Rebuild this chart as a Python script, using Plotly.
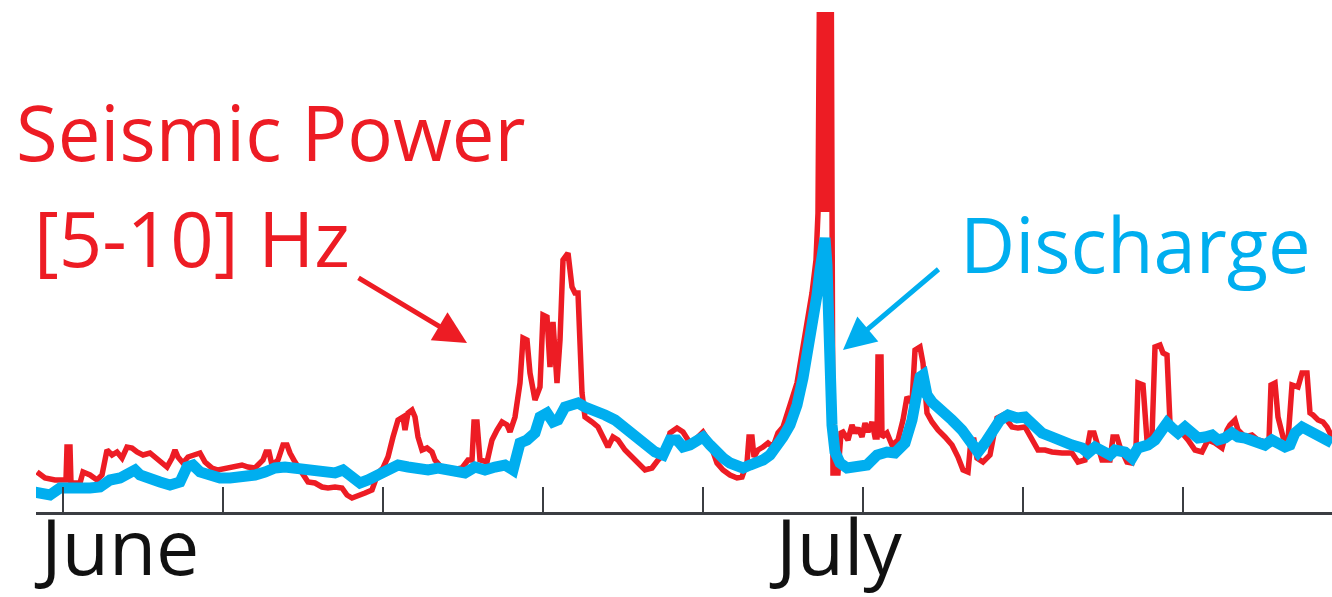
import plotly.graph_objects as go

# Time in hours since the start of the record; values are normalised power / discharge.
seismic_hours = [
    4.75, 10.75, 18.25, 24.25, 26.5, 27.25, 29.5, 30.25, 37, 39.25, 44.5, 49.75, 53.5, 57.25,
    61, 64.75, 68.5, 72.25, 76, 79.75, 84.25, 89.5, 93.25, 97, 102.25, 106, 108.25, 110.5,
    114.25, 118, 121.75, 127, 130.75, 136, 140.5, 147.25, 151.75, 158.5, 163, 168.25, 174.25,
    176.5, 178.75, 181, 185.5, 189.25, 192.25, 194.5, 198.25, 203.5, 208, 213.25, 218.5, 223,
    228.25, 233.5, 237.25, 241, 245.5, 250.75, 256, 260.5, 264.25, 268, 271.75, 275.5, 279.25,
    280.75, 283, 286, 288.25, 290.5, 293.5, 297.25, 301, 303.25, 308.5, 316, 323.5, 328, 331,
    332.5, 334.75, 337, 342.25, 346, 349.75, 353.5, 357.25, 359.5, 363.25, 367, 369.25, 372.25,
    374.5, 378.25, 382, 384.25, 387.25, 389.5, 391.75, 394.75, 397, 399.25, 403, 406, 408.25,
    410.5, 413.5, 415.75, 421, 425.5, 429.25, 433, 436.75, 440.5, 445.75, 451, 455.5, 460.75,
    466, 470.5, 475.75, 479.5, 484.75, 489.25, 494.5, 499.75, 504.25, 509.5, 514.75, 519.25,
    524.5, 529.75, 533.5, 537.25, 538.75, 541, 542.5, 545.5, 549.25, 553, 556.75, 560.5, 564.25,
    569.5, 574.75, 579.25, 583, 586, 589, 590.5, 592, 593.25, 594.25, 595.5, 596.5, 597.75,
    598.75, 600.25, 601.75, 605.5, 607.75, 609.25,
    613, 616, 618.25, 620.5, 623.5, 625.75, 628, 631, 633.25, 634.75, 635.5, 637.75, 638.5,
    642.25, 646, 650.5, 654.25, 657.25, 661, 663.25, 667, 669.25, 672.25, 676, 680.5, 685.75,
    691, 695.5, 699.25, 703, 705.25, 707.5, 709.75, 714.25, 719.5, 724.75, 729.25, 736, 740.5,
    745.75, 751, 755.5, 760.75, 766, 773.5, 781, 785.5, 790.75, 794.5, 797.5, 799.75, 803.5,
    809.5, 811.75, 814.75, 817, 822.25, 826, 829, 830.5, 834.25, 837.25, 841, 843.25, 847,
    849.25, 852.25, 854.5, 858.25, 863.5, 868, 873.25, 878.5, 883, 888.25, 893.5, 897.25, 899.5,
    903.25, 905.5, 910.75, 916, 920.5, 925.75, 928.75, 930.25, 933.25, 935.5, 939.25, 943, 946,
    950.5, 953.5, 957.25, 959.5, 961.75, 965.5, 969.25, 972.25, 976,
]
seismic_power = [
    0.40, 0.34, 0.32, 0.33, 0.32, 0.65, 0.65, 0.29, 0.29, 0.40, 0.37, 0.32, 0.37, 0.62,
    0.57, 0.60, 0.54, 0.65, 0.64, 0.60, 0.57, 0.59, 0.55, 0.52, 0.45, 0.54, 0.62, 0.55,
    0.49, 0.55, 0.57, 0.59, 0.50, 0.44, 0.42, 0.44, 0.45, 0.47, 0.45, 0.44, 0.52,
    0.60, 0.60, 0.47, 0.52, 0.67, 0.67, 0.59, 0.50, 0.40, 0.30, 0.29, 0.25, 0.24,
    0.25, 0.24, 0.17, 0.14, 0.17, 0.19, 0.22, 0.39, 0.44, 0.55, 0.75, 0.92, 0.95,
    0.82, 0.99, 1.02, 0.95, 0.75, 0.62, 0.64, 0.60, 0.52, 0.44, 0.42, 0.44, 0.52, 0.52,
    0.90, 0.90, 0.52, 0.50, 0.72, 0.82, 0.90, 0.87, 0.80, 0.95, 1.29, 1.74, 1.72,
    1.39, 1.12, 1.25, 1.97, 1.95, 1.45, 1.90, 1.29, 1.72, 2.52, 2.59, 2.25, 2.19,
    2.19, 1.19, 0.95, 0.90, 0.85, 0.75, 0.65, 0.75, 0.72, 0.62, 0.55, 0.49, 0.42,
    0.44, 0.52, 0.59, 0.79, 0.84, 0.80, 0.69, 0.74, 0.80, 0.69, 0.49, 0.42,
    0.37, 0.34, 0.35, 0.49, 0.75, 0.75, 0.55, 0.62, 0.65, 0.69, 0.65, 0.79, 0.85,
    1.05, 1.29, 1.65, 1.95, 2.19, 2.52, 2.99, 6.00, 3.00, 6.00, 3.00, 6.00, 3.00,
    6.00, 6.00, 0.39, 0.39, 0.79, 0.80,
    0.72, 0.87, 0.79, 0.84, 0.75, 0.89, 0.80, 0.90, 0.75, 0.75, 1.55, 1.55, 0.75,
    0.79, 0.67, 0.72, 0.92, 1.15, 1.09, 1.62, 1.65, 1.49, 0.99, 0.90, 0.82, 0.75,
    0.67, 0.55, 0.42, 0.40, 0.72, 0.72, 0.54, 0.50, 0.57, 0.94, 0.97, 0.85, 0.84,
    0.85, 0.72, 0.62, 0.62, 0.60, 0.59, 0.59, 0.50, 0.52, 0.79, 0.79, 0.69, 0.52,
    0.52, 0.75, 0.75, 0.65, 0.50, 0.49, 0.65, 1.29, 1.27, 0.72, 0.75, 1.65, 1.67,
    1.59, 1.57, 0.89, 0.82, 0.79, 0.72, 0.62, 0.60, 0.72, 0.69, 0.64, 0.82, 0.87,
    0.92, 0.82, 0.75, 0.77, 0.72, 0.70, 0.72, 1.27, 1.29, 0.95, 0.75, 0.72, 1.27,
    1.25, 1.39, 1.39, 0.99, 0.97, 0.92, 0.90, 0.85, 0.75,
]

discharge_hours = [
    2.5, 7, 14.5, 22, 29.5, 37, 44.5, 52, 59.5, 67, 74.5, 78.25, 82, 89.5, 97, 104.5, 112,
    117.25, 121.75, 127, 134.5, 142, 149.5, 157, 164.5, 168.25, 175.75, 183.25, 190.75, 198.25,
    205.75, 213.25, 220.75, 228.25, 234.25, 241, 247, 253, 260.5, 268, 275.5, 283, 290.5, 298,
    305.5, 313, 320.5, 325.75, 333.25, 340.75, 348.25, 355.75, 361.75, 367, 372.25, 378.25, 382,
    387.25, 391.75, 395.5, 400.75, 406, 410.5, 415.75, 423.25, 430.75, 438.25, 445.75, 453.25,
    460.75, 468.25, 474.25, 479.5, 484.75, 489.25, 494.5, 499.75, 504.25, 509.5, 514.75, 519.25,
    524.5, 529.75, 534.25, 539.5, 544.75, 549.25, 554.5, 559.75, 564.25, 569.5, 574.75, 579.25,
    583, 586.75, 589.75, 592, 594.25, 595.75, 597.25, 598, 599.5, 601, 603.25, 607, 612.25,
    619.75, 627.25, 634.75, 642.25, 648.25, 655.75, 661, 664.75, 667, 669.25, 672.25, 676,
    683.5, 691, 698.5, 706, 710.5, 715.75, 721, 727, 733, 739.75, 745.75, 751, 758.5, 766,
    773.5, 781, 788.5, 793, 798.25, 803.5, 809.5, 813.25, 820.75, 826, 830.5, 838, 843.25,
    848.5, 852.25, 856, 860.5, 865.75, 871, 875.5, 880.75, 886, 890.5, 895.75, 901, 905.5,
    910.75, 916, 920.5, 925.75, 931, 935.5, 940.75, 944.5, 948.25, 953.5, 958, 963.25, 968.5,
    976,
]
discharge = [
    0.20, 0.19, 0.17, 0.24, 0.24, 0.22, 0.24, 0.25, 0.32, 0.34, 0.39, 0.42, 0.37, 0.32, 0.30,
    0.27, 0.30, 0.45, 0.47, 0.40, 0.37, 0.34, 0.34, 0.35, 0.35, 0.37, 0.40, 0.44, 0.45, 0.44,
    0.42, 0.40, 0.39, 0.39, 0.42, 0.34, 0.29, 0.32, 0.37, 0.42, 0.47, 0.45, 0.44, 0.42,
    0.44, 0.42, 0.40, 0.39, 0.45, 0.42, 0.45, 0.47, 0.42, 0.69, 0.72, 0.79, 0.95,
    0.99, 0.90, 0.92, 1.05, 1.07, 1.09, 1.05, 1.02, 0.97, 0.92, 0.84, 0.75,
    0.65, 0.60, 0.57, 0.72, 0.72, 0.65, 0.67, 0.72, 0.75, 0.67, 0.59, 0.54,
    0.49, 0.45, 0.44, 0.47, 0.49, 0.52, 0.57, 0.65, 0.75, 0.87, 1.07, 1.34,
    1.60, 1.87, 2.17, 2.42, 2.67, 2.74, 2.47, 2.02, 1.32, 0.87, 0.60, 0.49, 0.44,
    0.45, 0.47, 0.57, 0.60, 0.59, 0.69, 0.92, 1.25, 1.35, 1.37, 1.17, 1.10,
    1.02, 0.92, 0.82, 0.65, 0.60, 0.69, 0.82, 0.92, 0.97, 0.94, 0.95, 0.89, 0.79, 0.75,
    0.70, 0.67, 0.64, 0.59, 0.65, 0.60, 0.57, 0.62, 0.60, 0.54, 0.64, 0.67, 0.72,
    0.82, 0.89, 0.84, 0.79, 0.85, 0.79, 0.74, 0.75, 0.77, 0.72, 0.74, 0.79, 0.75,
    0.74, 0.72, 0.69, 0.67, 0.72, 0.69, 0.65, 0.67, 0.79, 0.85, 0.82, 0.79, 0.75,
    0.69,
]

month_labels = ["June", "July"]

RED = "#ED1C24"
CYAN = "#00AEEF"
AXIS = "#3b3d42"
FONT = "Open Sans, Liberation Sans, sans-serif"

fig = go.Figure()
fig.add_trace(go.Scatter(
    x=seismic_hours, y=seismic_power, mode="lines",
    line=dict(color=RED, width=5.5), hoverinfo="skip", showlegend=False,
))
fig.add_trace(go.Scatter(
    x=discharge_hours, y=discharge, mode="lines",
    line=dict(color=CYAN, width=11), hoverinfo="skip", showlegend=False,
))


def label(text, x, y, color, size=76):
    return dict(x=x, y=y, xref="paper", yref="paper", text=text, showarrow=False,
                xanchor="left", yanchor="middle", borderpad=0,
                font=dict(size=size, color=color, family=FONT))


annotations = [
    label("Seismic Power", -0.016, 0.762, RED),
    label("[5-10] Hz", -0.002, 0.548, RED),
    label("Discharge", 0.712, 0.536, CYAN),
    label(month_labels[0], -0.002, -0.066, "#111111", 77),
    label(month_labels[1], 0.565, -0.066, "#111111", 77),
]

# Pointer arrows from the labels to their curves
annotations.append(dict(x=327.25, y=1.69, ax=244.75, ay=2.35, axref="x", ayref="y",
                        text="", showarrow=True, arrowhead=2, arrowsize=1.3,
                        arrowwidth=5, arrowcolor=RED))
annotations.append(dict(x=609.25, y=1.62, ax=682, ay=2.44, axref="x", ayref="y",
                        text="", showarrow=True, arrowhead=2, arrowsize=1.3,
                        arrowwidth=5, arrowcolor=CYAN))

fig.update_layout(
    width=1332, height=597,
    margin=dict(l=36, r=0, t=12, b=85),
    paper_bgcolor="white", plot_bgcolor="white",
    annotations=annotations,
    xaxis=dict(
        range=[4, 976], showgrid=False, zeroline=False, showticklabels=False,
        showline=True, linecolor=AXIS, linewidth=2.5,
        ticks="inside", ticklen=25, tickwidth=2, tickcolor=AXIS,
        tick0=24, dtick=120,
    ),
    yaxis=dict(range=[0, 5.0], visible=False, showgrid=False, zeroline=False),
)

fig.write_html("out.html")
